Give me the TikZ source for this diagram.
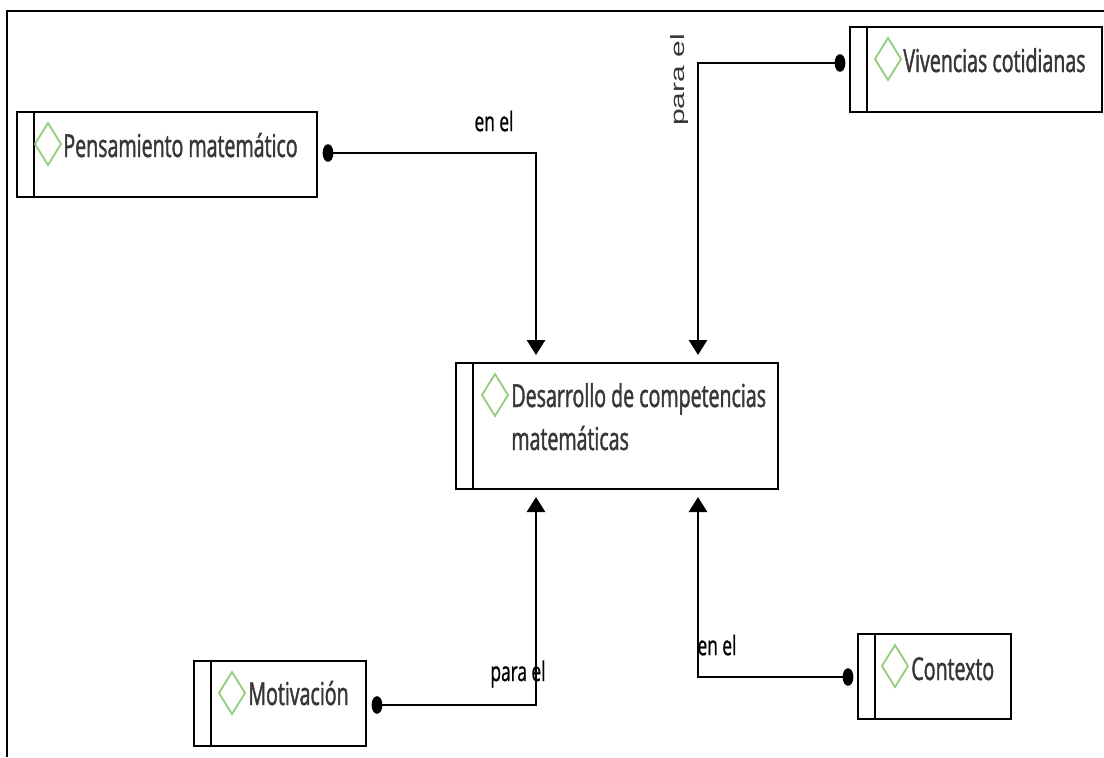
\documentclass[tikz,border=0pt]{standalone}
\usepackage{fontspec}
\usepackage{graphicx}
\usetikzlibrary{arrows.meta,calc}
\newfontfamily\boxfont[FakeStretch=0.62,FakeBold=1.3]{Open Sans}
\newfontfamily\tagfont[FakeStretch=0.64,FakeBold=0.8]{Open Sans}
\newfontfamily\rotfont{Liberation Sans}
\definecolor{inkgray}{RGB}{55,55,55}
\definecolor{gemgreen}{RGB}{146,204,128}

% outline of a small diamond glyph placed before an entity name
\newcommand\gem[1]{\draw[gemgreen,line width=0.9pt,line join=miter]
  (#1) +(-6.5pt,0) -- +(0,10.5pt) -- +(6.5pt,0) -- +(0,-10.5pt) -- cycle;}

\tikzset{
  entity/.style={draw,line width=1.35pt,inner sep=0pt,
    path picture={\draw[line width=1.35pt]
      ([xshift=8.5pt]path picture bounding box.north west) --
      ([xshift=8.5pt]path picture bounding box.south west);}},
  entname/.style={font=\boxfont\fontsize{15.8}{21.5}\selectfont,text=inkgray,
    inner sep=0pt,anchor=base west,align=left},
  tag/.style={font=\tagfont\fontsize{13.5}{16}\selectfont,text=black,inner sep=0pt},
  link/.style={line width=1.35pt,line join=miter},
  headed/.style={link,-{Triangle[width=9pt,length=7.5pt]},shorten >=4pt},
  knob/.style={fill=black}
}

\begin{document}
\begin{tikzpicture}[x=0.5pt,y=-0.5pt]
\useasboundingbox (0,0) rectangle (1104,757);

% open frame along the top and left edges
\draw[line width=1.1pt] (7,757) -- (7,11) -- (1104,11);

% entities
\node[entity,minimum width=150pt,minimum height=42.5pt] (pens) at (167,154.5) {};
\node[entity,minimum width=126pt,minimum height=42.5pt] (viv) at (976,69.5) {};
\node[entity,minimum width=161pt,minimum height=63pt] (des) at (617,426) {};
\node[entity,minimum width=86pt,minimum height=42.5pt] (mot) at (280,703.5) {};
\node[entity,minimum width=76.5pt,minimum height=42.5pt] (ctx) at (934.5,676.5) {};

% names with their diamonds
\gem{48,144}
\node[entname] (pens-t) at (63,157) {Pensamiento matemático};
\gem{888,59}
\node[entname] (viv-t) at (903,72) {Vivencias cotidianas};
\gem{495,395}
\node[entname] (des-t) at (511,450) {Desarrollo de competencias\\matemáticas};
\gem{232,693}
\node[entname] (mot-t) at (248,705) {Motivación};
\gem{895,666}
\node[entname] (ctx-t) at (911,680) {Contexto};

% connector ends
\coordinate (p0) at (328,153);
\coordinate (v0) at (840,63);
\coordinate (m0) at (377,705);
\coordinate (c0) at (848,677);
\coordinate (dnl) at (536,363);
\coordinate (dnr) at (698,363);
\coordinate (dsl) at (536,489);
\coordinate (dsr) at (698,489);

% connectors
\draw[headed] (p0) -| (dnl);
\draw[headed] (v0) -| (dnr);
\draw[headed] (m0) -| (dsl);
\draw[headed] (c0) -| (dsr);
\foreach \k in {p0,v0,m0,c0}
  \fill[knob] (\k) ellipse [x radius=2.7pt,y radius=4.4pt];

% connector labels
\node[tag] (lab-pens) at (494,121) {en el};
\node[tag] (lab-mot) at (518,674) {para el};
\node[tag] (lab-ctx) at (717,645) {en el};
\node[inner sep=0pt,rotate=90,text=inkgray] (lab-viv) at (680,80)
  {\scalebox{1}[0.64]{\rotfont\fontsize{15}{18}\selectfont para el}};
\end{tikzpicture}
\end{document}
